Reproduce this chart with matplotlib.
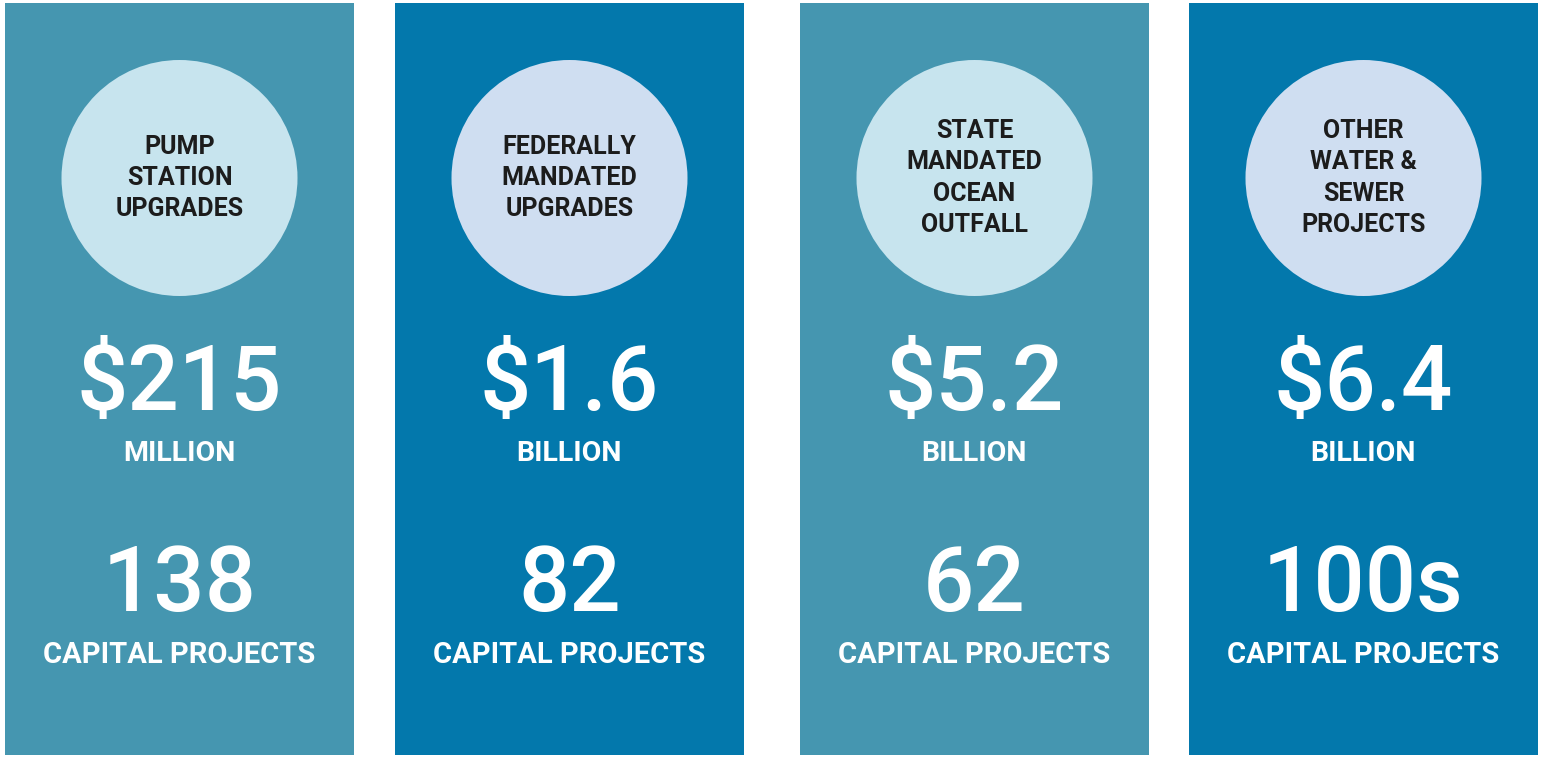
import matplotlib.pyplot as plt
from matplotlib.patches import Rectangle, Circle

# ----------------------------
# Dados
# ----------------------------
categories = ["PUMP\nSTATION\nUPGRADES",
              "FEDERALLY\nMANDATED\nUPGRADES",
              "STATE\nMANDATED\nOCEAN\nOUTFALL",
              "OTHER\nWATER &\nSEWER\nPROJECTS"]
amounts = ["$215", "$1.6", "$5.2", "$6.4"]
units = ["MILLION", "BILLION", "BILLION", "BILLION"]
projects = ["138", "82", "62", "100s"]
project_label = "CAPITAL PROJECTS"

# ----------------------------
# Estilo
# ----------------------------
panel_colors = ["#4596B0", "#0378AC", "#4596B0", "#0378AC"]
circle_colors = ["#C7E4EE", "#CFDEF1", "#C7E4EE", "#CFDEF1"]
font = ["Roboto", "DejaVu Sans"]

W, H = 1541, 759
panel_left = [5, 395, 800, 1189]
panel_w = 349
panel_top, panel_bottom = 3, 755

fig = plt.figure(figsize=(W / 100, H / 100), dpi=100)
ax = fig.add_axes([0, 0, 1, 1])
ax.set_xlim(0, W)
ax.set_ylim(H, 0)
ax.axis("off")

for i in range(len(categories)):
    x0 = panel_left[i]
    cx = x0 + panel_w / 2
    ax.add_patch(Rectangle((x0, panel_top), panel_w, panel_bottom - panel_top,
                           color=panel_colors[i], lw=0))
    ax.add_patch(Circle((cx, 178), 118, color=circle_colors[i], lw=0))

    # rótulo no círculo
    lines = categories[i].split("\n")
    step = 31.5
    y0 = 178 - step * (len(lines) - 1) / 2
    for k, ln in enumerate(lines):
        ax.text(cx, y0 + k * step, ln, ha="center", va="center",
                fontsize=18, fontweight="bold", color="#1c1c1c", family=font)

    ax.text(cx, 410, amounts[i], ha="center", va="baseline",
            fontsize=65, fontweight="medium", color="white", family=font)
    ax.text(cx, 461, units[i], ha="center", va="baseline",
            fontsize=20.5, fontweight="bold", color="white", family=font)
    ax.text(cx, 611, projects[i], ha="center", va="baseline",
            fontsize=65, fontweight="medium", color="white", family=font)
    ax.text(cx, 663, project_label, ha="center", va="baseline",
            fontsize=21, fontweight="bold", color="white", family=font)

fig.savefig("out.png", dpi=100, facecolor="white")
